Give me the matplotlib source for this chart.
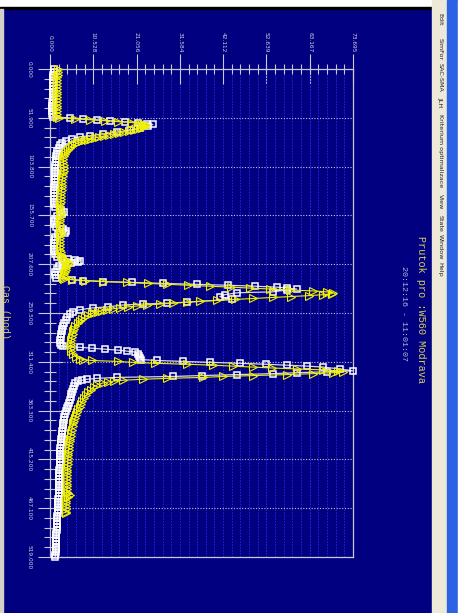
import matplotlib
matplotlib.use("Agg")
import matplotlib.pyplot as plt
from matplotlib.patches import Rectangle
from matplotlib.ticker import AutoMinorLocator

# screenshot is rotated: discharge runs left->right, time runs top->bottom
NAVY = "#000080"
AXIS_COLOR = "#C8C8DC"
TICK_TEXT = "#D0D0E4"
OBS_COLOR = "#FFFFFF"
OBS_LINE = "#D8D8E8"
SIM_COLOR = "#F0F000"

Q_TICKS = [0.0, 10.528, 21.056, 31.584, 42.112, 52.639, 63.167, 73.695]
T_TICKS = [0.0, 51.9, 103.8, 155.7, 207.6, 259.5, 311.4, 363.3, 415.2, 467.1, 519.0]

MENU_ITEMS = ["Edit", "SimFor", "SAC-SMA", "JLH", "Kriterium optimalizace",
              "View", "State", "Window", "Help"]
MENU_Y = [19, 49, 77, 102, 151, 202, 223, 247, 269]

TITLE = "Prutok pro :W560 Modrava"
SUBTITLE = "20:12:16 - 11:01:07"
TIME_LABEL = "Cas (hod)"

# observed discharge (white squares)
t_obs = [0, 3, 6, 9, 12, 15, 18, 21, 24, 27, 30, 33, 36, 39, 42, 45, 48, 51,
         52, 53, 54, 55, 56, 57, 58, 59, 61, 63, 65, 67, 69, 71, 72, 74, 77, 79,
         81, 84, 87, 90, 93, 96, 99, 102, 105, 108, 111, 114, 117, 120, 123, 126,
         129, 132, 135, 138, 141, 144, 147, 150, 152, 154, 156, 159, 162, 165,
         168, 170, 172, 174, 176, 179, 182, 185, 188, 191, 194, 197, 200, 201,
         202, 203, 204, 205, 206, 208, 210, 213, 216, 219, 222,
         224, 225, 226, 227, 228, 229, 230, 231, 232, 233, 234, 235, 237, 238,
         240, 242, 245, 248, 249, 250, 251, 253, 254, 256, 258, 261, 264, 267,
         270, 273, 276, 279, 282, 285, 288, 291, 294,
         295, 296, 297, 298, 299, 300, 301, 303, 305, 307, 309, 310, 311, 312,
         313, 314, 315, 316, 317, 319, 321, 322, 323, 324, 325, 326, 327, 328,
         329, 330, 331, 332, 334, 337, 340, 343, 346, 349, 352, 355, 358, 361,
         364, 367, 370, 373, 376, 379, 382, 385, 388, 391, 394, 397, 400, 403,
         406, 409, 412, 415, 418, 421, 424, 427, 430, 433, 436, 439, 442, 445,
         448, 451, 454, 457, 460, 463, 466, 469, 472, 475, 478, 481, 484, 487,
         490, 493, 496, 499, 502, 505, 508, 511, 514, 517, 519]
q_obs = [0.9, 0.9, 0.85, 0.8, 0.8, 0.75, 0.75, 0.7, 0.7, 0.7, 0.65, 0.65, 0.6,
         0.6, 0.6, 0.6, 0.55, 0.8,
         4.9, 8.0, 11.4, 14.6, 18.2, 21.4, 23.6, 25.0, 23.8, 21.9, 19.5, 16.3,
         12.9, 9.7, 7.3, 5.4, 3.8, 3.0, 2.5, 2.1, 1.8, 1.6, 1.5, 1.4, 1.4, 1.3,
         1.3, 1.2, 1.2, 1.2, 1.1, 1.1, 1.1, 1.0, 1.0, 1.0, 1.0, 0.9, 0.9, 0.9,
         1.2, 2.6, 3.3, 3.0, 1.8, 1.2, 1.0, 1.0, 1.4, 3.2, 4.0, 3.6, 2.0, 1.3,
         1.1, 1.0, 1.0, 1.0, 1.0, 1.1, 1.6, 3.0, 4.4, 6.1, 7.3, 6.8, 5.0, 3.2,
         2.2, 1.6, 1.3, 1.2, 1.5,
         5.4, 8.0, 12.9, 19.9, 27.5, 35.7, 43.3, 49.8, 55.2, 57.6, 60.0, 57.6,
         54.2, 45.5, 42.5, 41.3, 44.3, 33.3, 28.5, 22.6, 17.7, 14.1, 10.5, 7.3,
         5.6, 4.8, 4.2, 3.8, 3.4, 3.2, 3.0, 2.8, 2.7, 2.6, 2.5, 2.4, 2.6,
         3.2, 7.3, 10.2, 13.4, 16.5, 18.7, 20.7, 21.4, 21.6, 21.9, 22.1, 26.0,
         32.3, 38.9, 46.2, 52.5, 57.6, 62.5, 66.4, 70.5, 73.695, 67.4, 60.0,
         54.2, 45.5, 37.0, 29.9, 16.3, 11.4, 9.0, 7.8, 6.8, 6.1, 5.8, 5.6, 5.4,
         5.2, 5.0, 4.8, 4.5, 4.3, 4.1, 3.9, 3.7, 3.5, 3.35, 3.25, 3.15, 3.05,
         2.95, 2.85, 2.8, 2.7, 2.65, 2.6, 2.55, 2.5, 2.45, 2.45, 2.4, 2.4, 2.35,
         2.35, 2.3, 2.3, 2.3, 2.25, 2.25, 2.2, 2.2, 2.15, 2.1, 2.1, 2.05, 2.0,
         2.0, 1.95, 1.9, 1.85, 1.8, 1.75, 1.7, 1.7, 1.65, 1.6, 1.55, 1.55, 1.5,
         1.5, 1.5, 1.45, 1.4, 1.35, 1.3, 1.25]

# simulated discharge (yellow triangles)
t_sim = [0, 3, 6, 9, 12, 15, 18, 21, 24, 27, 30, 33, 36, 39, 42, 45, 48, 51,
         52, 53, 54, 55, 56, 57, 58, 59, 60, 61, 62, 63, 64, 65, 66, 67, 68, 69,
         70, 71, 72, 73, 74, 75, 76, 77, 78, 79, 80, 82, 84, 86, 88, 90, 93, 96,
         99, 102, 105, 108, 111, 114, 117, 120, 123, 126, 129, 132, 135, 138,
         141, 144, 147, 150, 153, 156, 159, 162, 165, 168, 171, 174, 177, 180,
         183, 186, 189, 192, 195, 198, 200, 202, 204, 206, 208, 210, 212, 214,
         216, 218, 220, 222, 223,
         224, 225, 226, 227, 228, 229, 230, 231, 232, 233, 234, 235, 236, 237,
         238, 239, 240, 241, 242, 243, 244, 245, 246, 247, 248, 249, 250, 251,
         252, 253, 254, 255, 256, 257, 258, 259, 260, 262, 264, 266, 268, 270,
         273, 276, 279, 282, 285, 288, 291, 294, 297, 300, 303, 306, 308, 309,
         310, 311, 312, 313, 314, 315, 316, 317, 318, 319, 320, 321, 322, 323,
         324, 325, 326, 327, 328, 329, 330, 331, 332, 333, 334, 336, 338, 341,
         344, 347, 350, 353, 356, 359, 362, 365, 368, 371, 374, 377, 380, 384,
         387, 390, 393, 396, 399, 402, 405, 408, 411, 414, 417, 420, 423, 426,
         429, 432, 435, 438, 441, 444, 447, 450, 451, 453, 455, 456, 459, 462,
         465, 468, 471, 472]
q_sim = [1.9, 1.9, 1.85, 1.8, 1.8, 1.8, 1.75, 1.75, 1.7, 1.7, 1.7, 1.65, 1.65,
         1.6, 1.6, 1.6, 1.6, 1.7,
         2.2, 6.1, 9.7, 13.4, 16.5, 19.9, 21.8, 22.8, 23.3, 23.2, 22.8, 22.3,
         21.5, 20.5, 19.3, 18.0, 16.8, 15.5, 14.3, 13.2, 12.0, 11.0, 10.0, 9.2,
         8.4, 7.7, 7.1, 6.6, 6.1, 5.4, 4.8, 4.3, 3.9, 3.6, 3.3, 3.2, 3.2, 3.3,
         3.4, 3.3, 3.2, 3.1, 3.0, 2.9, 2.9, 2.8, 2.8, 2.7, 2.7, 2.6, 2.6, 2.5,
         2.5, 2.5, 2.6, 2.6, 2.5, 2.4, 2.4, 2.4, 2.5, 2.6, 2.6, 2.5, 2.5, 2.5,
         2.5, 2.5, 2.6, 2.7, 3.0, 3.6, 4.1, 4.5, 4.4, 4.2, 4.0, 3.8, 3.6, 3.4,
         3.3, 3.2, 3.4,
         5.4, 8.5, 13.0, 18.7, 23.8, 28.5, 33.5, 38.9, 44.0, 48.6, 53.5, 58.4,
         63.9, 67.3, 68.8, 68.5, 66.5, 63.0, 58.5, 54.2, 49.4, 45.0, 40.5, 36.5,
         33.3, 30.0, 26.8, 23.6, 21.2, 19.0, 17.0, 15.3, 13.8, 12.6, 11.6, 10.8,
         10.1, 9.2, 8.5, 7.8, 7.2, 6.7, 6.2, 5.9, 5.7, 5.5, 5.3, 5.2, 5.1, 5.0,
         5.0, 5.2, 5.6, 6.3, 7.2, 8.0,
         10.2, 16.5, 20.2, 25.5, 33.3, 39.6, 44.5, 49.4, 54.0, 60.0, 66.5, 70.0,
         71.2, 68.8, 64.0, 57.6, 49.4, 42.1, 37.2, 28.5, 22.6, 17.8, 15.5, 14.0,
         12.8, 11.5, 10.6, 9.9, 9.3, 8.8, 8.3, 7.9, 7.5, 7.2, 6.9, 6.6, 6.4, 6.1,
         5.9, 5.7, 5.5, 5.3, 5.15, 5.0, 4.9, 4.75, 4.65, 4.55, 4.5, 4.45, 4.4,
         4.35, 4.3, 4.3, 4.25, 4.25, 4.2, 4.2, 4.15, 4.15, 4.1, 4.1, 4.1, 4.05,
         4.4, 4.8, 4.3, 4.0, 4.0, 3.95, 3.95, 3.9, 3.9, 3.85]

W, H = 461, 613
fig = plt.figure(figsize=(W / 100, H / 100), dpi=100)
fig.patch.set_facecolor(NAVY)

# window chrome drawn in pixel coordinates
bg = fig.add_axes([0, 0, 1, 1], zorder=0)
bg.set_xlim(0, W)
bg.set_ylim(H, 0)
bg.axis("off")
bg.add_patch(Rectangle((0, 0), W, 7, color="white"))
bg.add_patch(Rectangle((0, 7), 432, 2, color="black"))
bg.add_patch(Rectangle((0, 9), 3, H, color="#D4D0C8"))
bg.add_patch(Rectangle((432, 0), 15, H, color="#ECE9D8"))
bg.add_patch(Rectangle((447, 0), 11, H, color="#2C62E4"))
bg.add_patch(Rectangle((458, 0), 3, H, color="white"))
for label, y in zip(MENU_ITEMS, MENU_Y):
    bg.text(440, y, label, rotation=-90, ha="center", va="center",
            fontsize=4.6, color="#202020", family="DejaVu Sans")

bg.text(421, 310, TITLE, rotation=-90, ha="center", va="center",
        fontsize=7.4, color="#D8D060", family="Liberation Mono")
bg.text(403, 313, SUBTITLE, rotation=-90, ha="center", va="center",
        fontsize=6.0, color="#B8B8D8", family="Liberation Mono")
bg.text(5, 312, TIME_LABEL, rotation=-90, ha="center", va="center",
        fontsize=7.2, color="#D8D060", family="Liberation Mono")

# plot area
ax = fig.add_axes([50 / W, 1 - 557 / H, 303 / W, 488 / H], zorder=2)
ax.set_facecolor("none")
ax.set_xlim(0, Q_TICKS[-1])
ax.set_ylim(T_TICKS[-1], 0)

ax.xaxis.tick_top()
ax.set_xticks(Q_TICKS)
ax.set_xticklabels([f"{v:.3f}" for v in Q_TICKS], rotation=-90)
ax.xaxis.set_minor_locator(AutoMinorLocator(5))
ax.set_yticks(T_TICKS)
ax.set_yticklabels([f"{v:.3f}" for v in T_TICKS], rotation=-90, va="center")
ax.yaxis.set_minor_locator(AutoMinorLocator(5))

ax.tick_params(axis="x", which="major", direction="inout", length=21, width=0.8,
               color=AXIS_COLOR, labelcolor=TICK_TEXT, labelsize=4.2, pad=1.5)
ax.tick_params(axis="x", which="minor", direction="inout", length=7, width=0.8,
               color=AXIS_COLOR)
ax.tick_params(axis="y", which="major", direction="inout", length=18, width=0.8,
               color=AXIS_COLOR, labelcolor=TICK_TEXT, labelsize=4.2, pad=4)
ax.tick_params(axis="y", which="minor", direction="inout", length=8, width=0.8,
               color=AXIS_COLOR)

ax.grid(which="both", axis="x", color="#2424EE", linestyle=(0, (1.5, 1.5)),
        linewidth=0.7)
ax.grid(which="major", axis="y", color="#C4C4DC", linestyle=(0, (1, 1.5)),
        linewidth=0.8)
ax.set_axisbelow(True)
for spine in ax.spines.values():
    spine.set_color(AXIS_COLOR)
    spine.set_linewidth(0.9)

ax.plot(q_obs, t_obs, color=OBS_LINE, linewidth=0.9, marker="s", markersize=4.6,
        markerfacecolor="none", markeredgecolor=OBS_COLOR, markeredgewidth=1.1,
        clip_on=False, zorder=3)
ax.plot(q_sim, t_sim, color=SIM_COLOR, linewidth=0.8, marker=">", markersize=6,
        markerfacecolor="none", markeredgecolor=SIM_COLOR, markeredgewidth=0.8,
        clip_on=False, zorder=4)

fig.savefig("out.png", dpi=100, facecolor=NAVY)
